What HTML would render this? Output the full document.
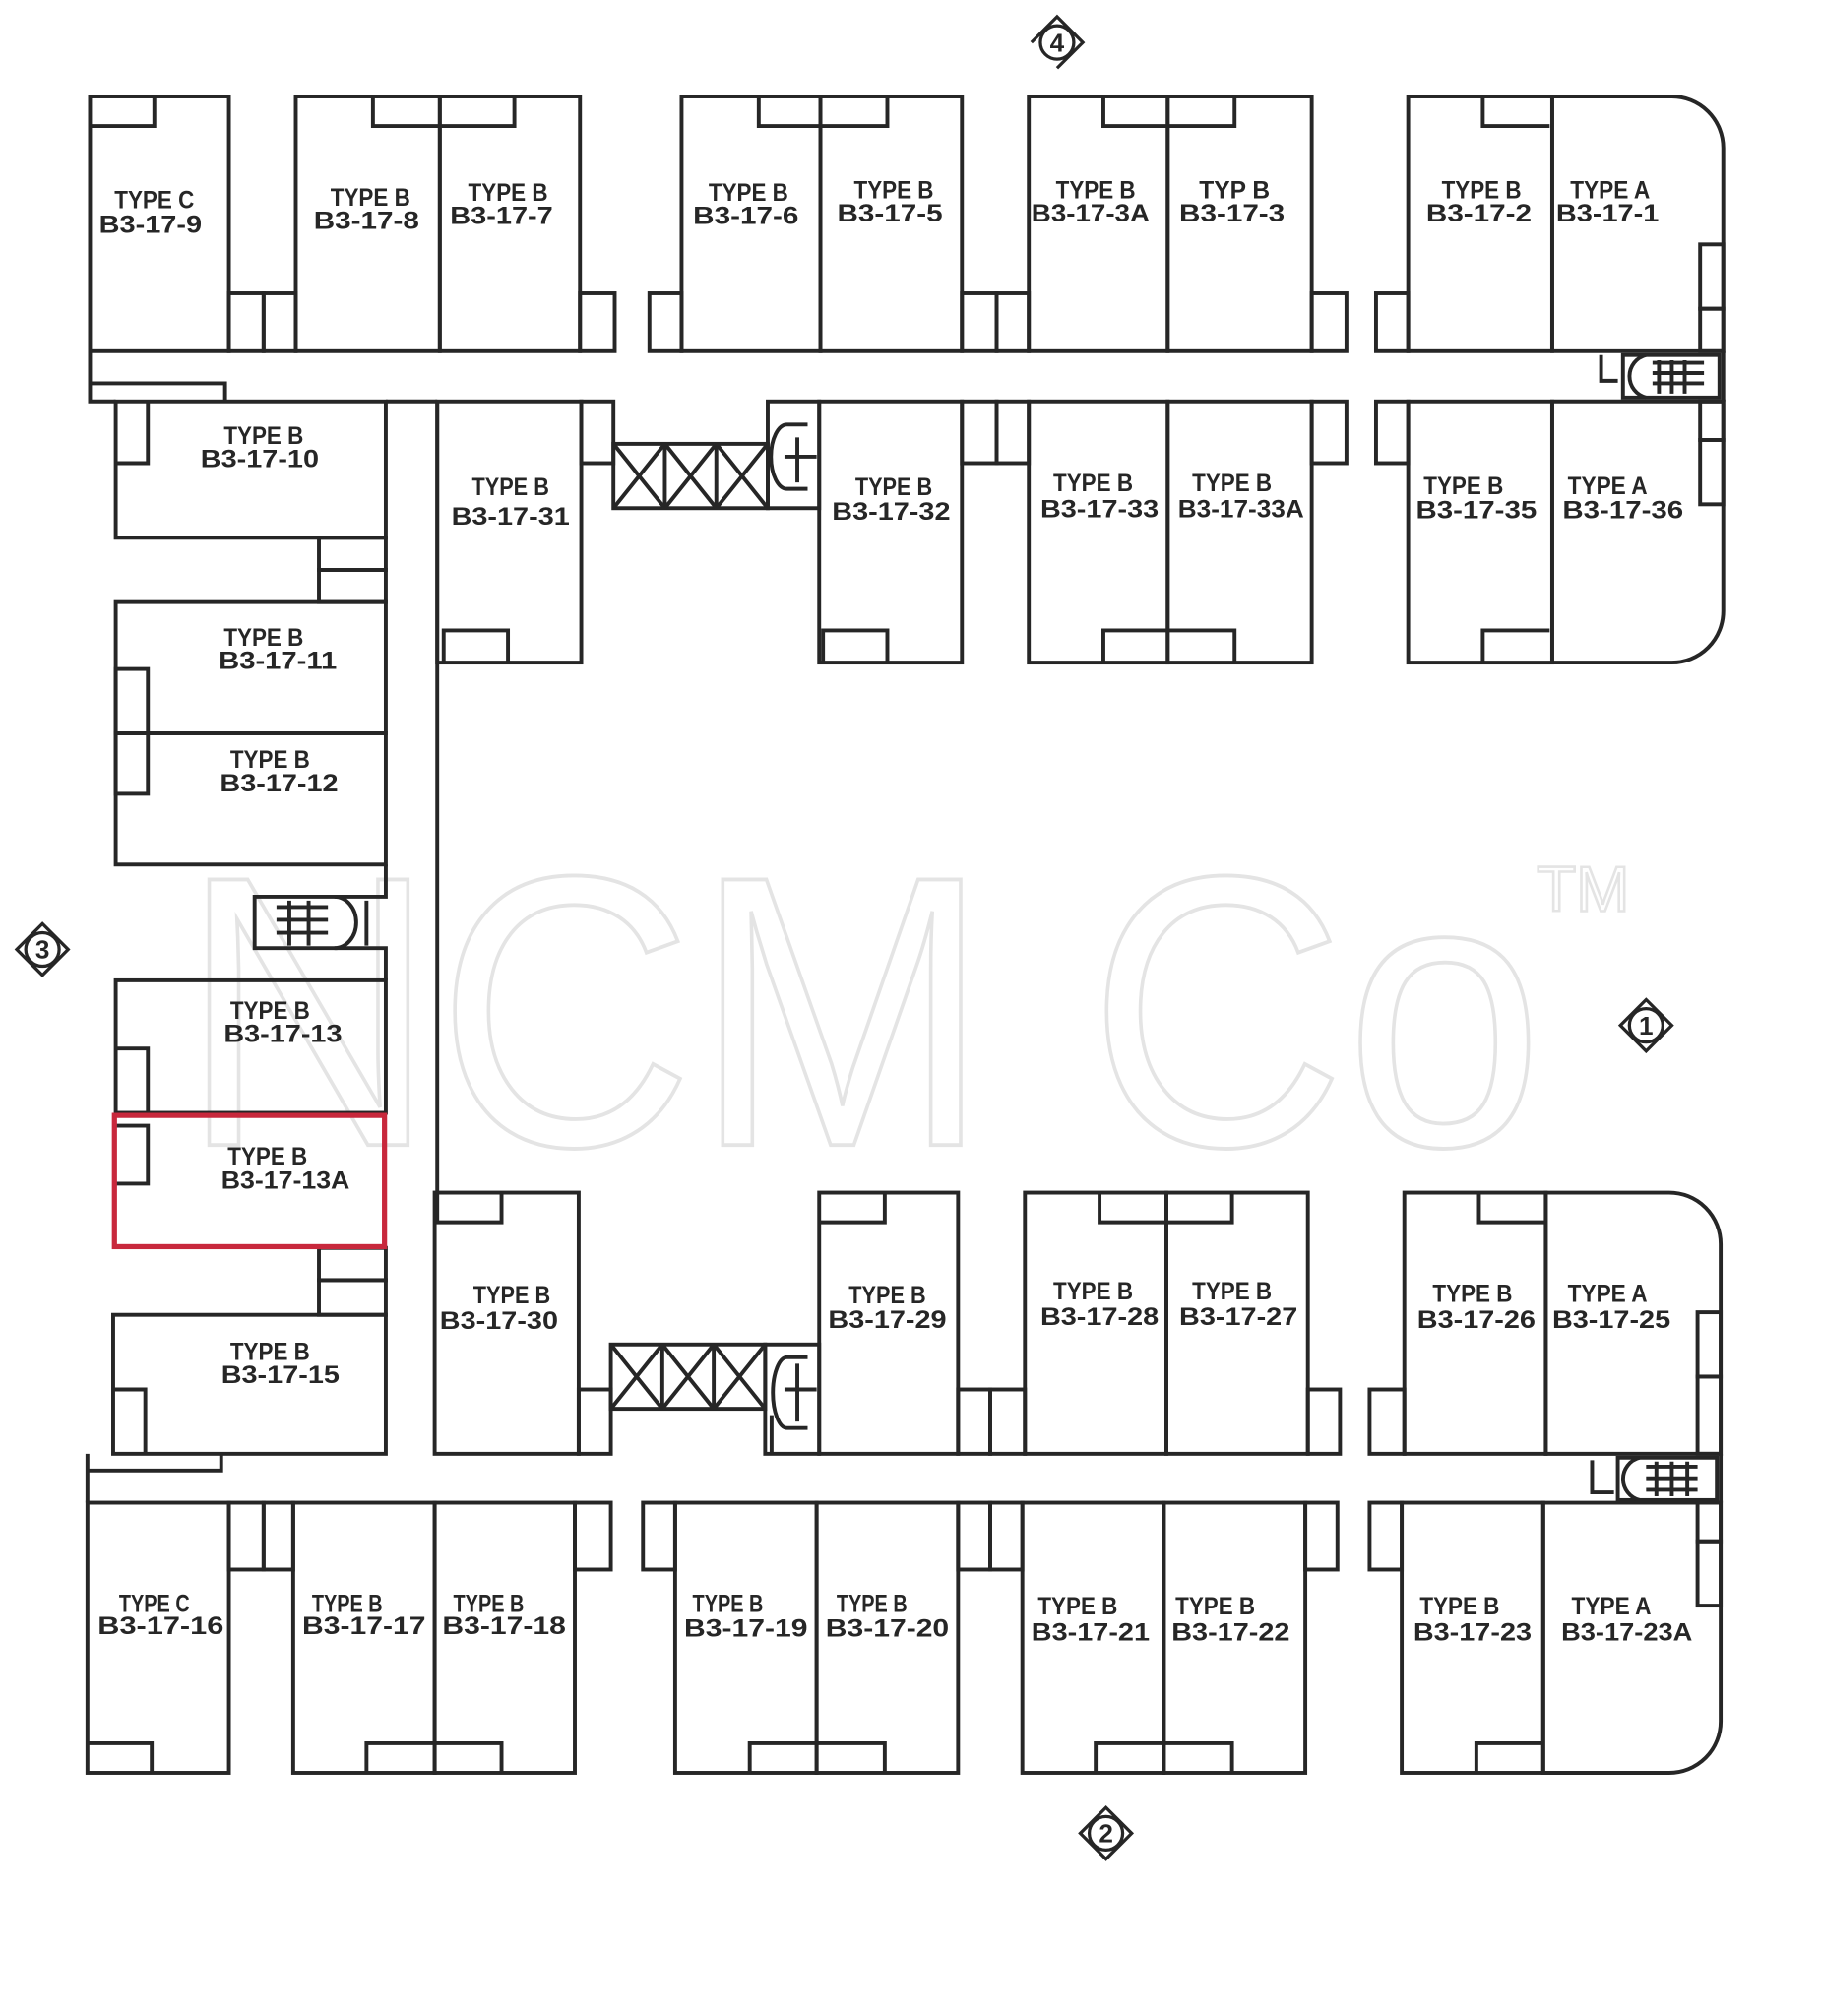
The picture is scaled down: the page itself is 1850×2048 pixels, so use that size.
<!DOCTYPE html>
<html><head><meta charset="utf-8"><style>
html,body{margin:0;padding:0;background:#fff}
svg{display:block}
.w{fill:none;stroke:#262626;stroke-width:3}
.t{font-family:"Liberation Sans",sans-serif;font-size:19px;fill:#262626;text-anchor:middle;font-weight:bold}
.m{font-family:"Liberation Sans",sans-serif;font-size:22px;fill:#262626;text-anchor:middle;font-weight:bold}
</style></head><body>
<svg width="1850" height="2048" viewBox="0 0 1416 1567" preserveAspectRatio="none" xmlns="http://www.w3.org/2000/svg">
<rect width="1416" height="1567" fill="#fff"/>
<!-- watermark -->
<text x="140" y="890" font-family="Liberation Sans,sans-serif" font-size="300" fill="none" stroke="#e4e4e4" stroke-width="3" textLength="1060" lengthAdjust="spacingAndGlyphs">NCM Co</text>
<text x="1195" y="708" font-family="Liberation Sans,sans-serif" font-size="50" fill="none" stroke="#e4e4e4" stroke-width="2">TM</text>
<g class="w">
<!-- TOP ROW -->
<rect x="70" y="75" width="108" height="198"/><path d="M70 98H120V75"/>
<rect x="178" y="228" width="27" height="45"/><rect x="205" y="228" width="25" height="45"/>
<rect x="230" y="75" width="112" height="198"/><rect x="342" y="75" width="109" height="198"/><path d="M290 75V98H400V75"/>
<rect x="451" y="228" width="27" height="45"/><rect x="505" y="228" width="25" height="45"/>
<rect x="530" y="75" width="108" height="198"/><rect x="638" y="75" width="110" height="198"/><path d="M590 75V98H690V75"/>
<rect x="748" y="228" width="27" height="45"/><rect x="775" y="228" width="25" height="45"/>
<rect x="800" y="75" width="108" height="198"/><rect x="908" y="75" width="112" height="198"/><path d="M858 75V98H960V75"/>
<rect x="1020" y="228" width="27" height="45"/><rect x="1070" y="228" width="25" height="45"/>
<rect x="1095" y="75" width="112" height="198"/><path d="M1207 75H1300A40 40 0 0 1 1340 115V273H1207Z"/><path d="M1153 75V98H1205"/>
<rect x="1322" y="190" width="18" height="50"/><rect x="1322" y="240" width="18" height="33"/>
<!-- top corridor -->
<path d="M70 273V312H90M300 312H340"/><path d="M70 298H175V312"/>
<path d="M1340 273V312"/>
<rect x="1262" y="276" width="75" height="33"/><path d="M1280 276A17 17 0 0 0 1280 309"/>
<path d="M1285 282H1325M1285 290H1325M1285 298H1325M1290 280V306M1300 280V306M1310 280V306"/>
<path d="M1245 276V296H1258"/>
<!-- SECOND ROW TOP -->
<rect x="90" y="312" width="210" height="106"/><path d="M90 360H115V312"/>
<rect x="340" y="312" width="112" height="203"/><path d="M345 515V490H395V515"/>
<rect x="452" y="312" width="25" height="48"/>
<rect x="477" y="345" width="120" height="50"/>
<path d="M517 345V395M557 345V395M477 345L517 395M517 345L477 395M517 345L557 395M557 345L517 395M557 345L597 395M597 345L557 395"/>
<rect x="597" y="312" width="40" height="83"/><path d="M628 330H612A10 20 0 0 0 612 380H628M620 340V375M610 355H635"/>
<rect x="637" y="312" width="111" height="203"/><path d="M640 515V490H690V515"/>
<rect x="748" y="312" width="27" height="48"/><rect x="775" y="312" width="25" height="48"/>
<rect x="800" y="312" width="108" height="203"/><rect x="908" y="312" width="112" height="203"/><path d="M858 515V490H960V515"/>
<rect x="1020" y="312" width="27" height="48"/><rect x="1070" y="312" width="25" height="48"/>
<rect x="1095" y="312" width="112" height="203"/><path d="M1207 312H1340V475A40 40 0 0 1 1300 515H1207Z"/><path d="M1153 515V490H1205"/>
<rect x="1322" y="312" width="18" height="30"/><rect x="1322" y="342" width="18" height="50"/>
<!-- LEFT COLUMN -->
<path d="M340 312V927M340 1130V1130"/>
<rect x="248" y="418" width="52" height="25"/><rect x="248" y="443" width="52" height="25"/>
<rect x="90" y="468" width="210" height="102"/><rect x="90" y="570" width="210" height="102"/>
<rect x="90" y="520" width="25" height="50"/><rect x="90" y="570" width="25" height="47"/>
<path d="M300 672V697H198V737H300V762"/><path d="M260 697A17 20 0 0 1 260 737"/><path d="M215 705H255M215 715H255M215 725H255M225 700V735M240 700V735M285 700V735"/>
<rect x="90" y="762" width="210" height="103"/><path d="M90 815H115V865"/>
<path d="M90 875H115V920H90"/>
<rect x="248" y="970" width="52" height="25"/><rect x="248" y="995" width="52" height="27"/>
<rect x="88" y="1022" width="212" height="108"/><path d="M88 1080H113V1130"/>
<!-- SECOND ROW BOTTOM -->
<rect x="338" y="927" width="112" height="203"/><path d="M340 927V950H390V927"/>
<rect x="450" y="1080" width="25" height="50"/>
<rect x="475" y="1045" width="120" height="50"/>
<path d="M515 1045V1095M555 1045V1095M475 1045L515 1095M515 1045L475 1095M515 1045L555 1095M555 1045L515 1095M555 1045L595 1095M595 1045L555 1095"/>
<rect x="595" y="1045" width="42" height="85"/><path d="M628 1055H612A10 25 0 0 0 612 1110H628M620 1060V1105M610 1080H635M600 1100V1130"/>
<rect x="637" y="927" width="108" height="203"/><path d="M637 950H688V927"/>
<rect x="745" y="1080" width="25" height="50"/><rect x="770" y="1080" width="27" height="50"/>
<rect x="797" y="927" width="110" height="203"/><rect x="907" y="927" width="110" height="203"/><path d="M855 927V950H958V927"/>
<rect x="1017" y="1080" width="25" height="50"/><rect x="1065" y="1080" width="27" height="50"/>
<rect x="1092" y="927" width="110" height="203"/><path d="M1202 927H1298A40 40 0 0 1 1338 967V1130H1202Z"/><path d="M1150 927V950H1202"/>
<rect x="1320" y="1020" width="18" height="50"/><rect x="1320" y="1070" width="18" height="60"/>
<!-- bottom corridor -->
<path d="M68 1130V1168M1338 1130V1168"/><path d="M68 1143H172V1130"/>
<rect x="1258" y="1133" width="77" height="33"/><path d="M1275 1133A17 17 0 0 0 1275 1166"/>
<path d="M1280 1140H1320M1280 1149H1320M1280 1158H1320M1288 1136V1163M1300 1136V1163M1312 1136V1163"/>
<path d="M1238 1135V1160H1255"/>
<!-- BOTTOM ROW -->
<rect x="68" y="1168" width="110" height="210"/><path d="M68 1355H118V1378"/>
<rect x="178" y="1168" width="27" height="52"/><rect x="205" y="1168" width="23" height="52"/>
<rect x="228" y="1168" width="110" height="210"/><rect x="338" y="1168" width="109" height="210"/><path d="M285 1378V1355H390V1378"/>
<rect x="447" y="1168" width="28" height="52"/><rect x="500" y="1168" width="25" height="52"/>
<rect x="525" y="1168" width="110" height="210"/><rect x="635" y="1168" width="110" height="210"/><path d="M583 1378V1355H688V1378"/>
<rect x="745" y="1168" width="25" height="52"/><rect x="770" y="1168" width="25" height="52"/>
<rect x="795" y="1168" width="110" height="210"/><rect x="905" y="1168" width="110" height="210"/><path d="M852 1378V1355H958V1378"/>
<rect x="1015" y="1168" width="25" height="52"/><rect x="1065" y="1168" width="25" height="52"/>
<rect x="1090" y="1168" width="110" height="210"/><path d="M1200 1168H1338V1338A40 40 0 0 1 1298 1378H1200Z"/><path d="M1148 1378V1355H1200"/>
<rect x="1320" y="1168" width="18" height="30"/><rect x="1320" y="1198" width="18" height="50"/>
</g>
<!-- red highlight -->
<rect x="89" y="867" width="210" height="102" fill="none" stroke="#c8283c" stroke-width="4"/>
<!-- labels -->
<g class="t">
<text x="120" y="162" textLength="62" lengthAdjust="spacingAndGlyphs">TYPE C</text><text x="117" y="181" textLength="80" lengthAdjust="spacingAndGlyphs">B3-17-9</text>
<text x="288" y="160" textLength="62" lengthAdjust="spacingAndGlyphs">TYPE B</text><text x="285" y="178" textLength="82" lengthAdjust="spacingAndGlyphs">B3-17-8</text>
<text x="395" y="156" textLength="62" lengthAdjust="spacingAndGlyphs">TYPE B</text><text x="390" y="174" textLength="80" lengthAdjust="spacingAndGlyphs">B3-17-7</text>
<text x="582" y="156" textLength="62" lengthAdjust="spacingAndGlyphs">TYPE B</text><text x="580" y="174" textLength="82" lengthAdjust="spacingAndGlyphs">B3-17-6</text>
<text x="695" y="154" textLength="62" lengthAdjust="spacingAndGlyphs">TYPE B</text><text x="692" y="172" textLength="82" lengthAdjust="spacingAndGlyphs">B3-17-5</text>
<text x="852" y="154" textLength="62" lengthAdjust="spacingAndGlyphs">TYPE B</text><text x="848" y="172" textLength="92" lengthAdjust="spacingAndGlyphs">B3-17-3A</text>
<text x="960" y="154" textLength="55" lengthAdjust="spacingAndGlyphs">TYP B</text><text x="958" y="172" textLength="82" lengthAdjust="spacingAndGlyphs">B3-17-3</text>
<text x="1152" y="154" textLength="62" lengthAdjust="spacingAndGlyphs">TYPE B</text><text x="1150" y="172" textLength="82" lengthAdjust="spacingAndGlyphs">B3-17-2</text>
<text x="1252" y="154" textLength="62" lengthAdjust="spacingAndGlyphs">TYPE A</text><text x="1250" y="172" textLength="80" lengthAdjust="spacingAndGlyphs">B3-17-1</text>
<text x="205" y="345" textLength="62" lengthAdjust="spacingAndGlyphs">TYPE B</text><text x="202" y="363" textLength="92" lengthAdjust="spacingAndGlyphs">B3-17-10</text>
<text x="397" y="385" textLength="60" lengthAdjust="spacingAndGlyphs">TYPE B</text><text x="397" y="408" textLength="92" lengthAdjust="spacingAndGlyphs">B3-17-31</text>
<text x="695" y="385" textLength="60" lengthAdjust="spacingAndGlyphs">TYPE B</text><text x="693" y="404" textLength="92" lengthAdjust="spacingAndGlyphs">B3-17-32</text>
<text x="850" y="382" textLength="62" lengthAdjust="spacingAndGlyphs">TYPE B</text><text x="855" y="402" textLength="92" lengthAdjust="spacingAndGlyphs">B3-17-33</text>
<text x="958" y="382" textLength="62" lengthAdjust="spacingAndGlyphs">TYPE B</text><text x="965" y="402" textLength="98" lengthAdjust="spacingAndGlyphs">B3-17-33A</text>
<text x="1138" y="384" textLength="62" lengthAdjust="spacingAndGlyphs">TYPE B</text><text x="1148" y="403" textLength="94" lengthAdjust="spacingAndGlyphs">B3-17-35</text>
<text x="1250" y="384" textLength="62" lengthAdjust="spacingAndGlyphs">TYPE A</text><text x="1262" y="403" textLength="94" lengthAdjust="spacingAndGlyphs">B3-17-36</text>
<text x="205" y="502" textLength="62" lengthAdjust="spacingAndGlyphs">TYPE B</text><text x="216" y="520" textLength="92" lengthAdjust="spacingAndGlyphs">B3-17-11</text>
<text x="210" y="597" textLength="62" lengthAdjust="spacingAndGlyphs">TYPE B</text><text x="217" y="615" textLength="92" lengthAdjust="spacingAndGlyphs">B3-17-12</text>
<text x="210" y="792" textLength="62" lengthAdjust="spacingAndGlyphs">TYPE B</text><text x="220" y="810" textLength="92" lengthAdjust="spacingAndGlyphs">B3-17-13</text>
<text x="208" y="905" textLength="62" lengthAdjust="spacingAndGlyphs">TYPE B</text><text x="222" y="924" textLength="100" lengthAdjust="spacingAndGlyphs">B3-17-13A</text>
<text x="210" y="1057" textLength="62" lengthAdjust="spacingAndGlyphs">TYPE B</text><text x="218" y="1075" textLength="92" lengthAdjust="spacingAndGlyphs">B3-17-15</text>
<text x="398" y="1013" textLength="60" lengthAdjust="spacingAndGlyphs">TYPE B</text><text x="388" y="1033" textLength="92" lengthAdjust="spacingAndGlyphs">B3-17-30</text>
<text x="690" y="1013" textLength="60" lengthAdjust="spacingAndGlyphs">TYPE B</text><text x="690" y="1032" textLength="92" lengthAdjust="spacingAndGlyphs">B3-17-29</text>
<text x="850" y="1010" textLength="62" lengthAdjust="spacingAndGlyphs">TYPE B</text><text x="855" y="1030" textLength="92" lengthAdjust="spacingAndGlyphs">B3-17-28</text>
<text x="958" y="1010" textLength="62" lengthAdjust="spacingAndGlyphs">TYPE B</text><text x="963" y="1030" textLength="92" lengthAdjust="spacingAndGlyphs">B3-17-27</text>
<text x="1145" y="1012" textLength="62" lengthAdjust="spacingAndGlyphs">TYPE B</text><text x="1148" y="1032" textLength="92" lengthAdjust="spacingAndGlyphs">B3-17-26</text>
<text x="1250" y="1012" textLength="62" lengthAdjust="spacingAndGlyphs">TYPE A</text><text x="1253" y="1032" textLength="92" lengthAdjust="spacingAndGlyphs">B3-17-25</text>
<text x="120" y="1253" textLength="55" lengthAdjust="spacingAndGlyphs">TYPE C</text><text x="125" y="1270" textLength="98" lengthAdjust="spacingAndGlyphs">B3-17-16</text>
<text x="270" y="1253" textLength="55" lengthAdjust="spacingAndGlyphs">TYPE B</text><text x="283" y="1270" textLength="96" lengthAdjust="spacingAndGlyphs">B3-17-17</text>
<text x="380" y="1253" textLength="55" lengthAdjust="spacingAndGlyphs">TYPE B</text><text x="392" y="1270" textLength="96" lengthAdjust="spacingAndGlyphs">B3-17-18</text>
<text x="566" y="1253" textLength="55" lengthAdjust="spacingAndGlyphs">TYPE B</text><text x="580" y="1272" textLength="96" lengthAdjust="spacingAndGlyphs">B3-17-19</text>
<text x="678" y="1253" textLength="55" lengthAdjust="spacingAndGlyphs">TYPE B</text><text x="690" y="1272" textLength="96" lengthAdjust="spacingAndGlyphs">B3-17-20</text>
<text x="838" y="1255" textLength="62" lengthAdjust="spacingAndGlyphs">TYPE B</text><text x="848" y="1275" textLength="92" lengthAdjust="spacingAndGlyphs">B3-17-21</text>
<text x="945" y="1255" textLength="62" lengthAdjust="spacingAndGlyphs">TYPE B</text><text x="957" y="1275" textLength="92" lengthAdjust="spacingAndGlyphs">B3-17-22</text>
<text x="1135" y="1255" textLength="62" lengthAdjust="spacingAndGlyphs">TYPE B</text><text x="1145" y="1275" textLength="92" lengthAdjust="spacingAndGlyphs">B3-17-23</text>
<text x="1253" y="1255" textLength="62" lengthAdjust="spacingAndGlyphs">TYPE A</text><text x="1265" y="1275" textLength="102" lengthAdjust="spacingAndGlyphs">B3-17-23A</text>
</g>
<!-- direction markers -->
<g fill="none" stroke="#262626" stroke-width="2.5">
<circle cx="822" cy="33" r="13"/><path d="M802 33L822 13L842 33L822 53"/>
<circle cx="33" cy="738" r="13"/><path d="M33 718L53 738L33 758L13 738Z"/>
<circle cx="1280" cy="797" r="13"/><path d="M1280 777L1300 797L1280 817L1260 797Z"/>
<circle cx="860" cy="1425" r="13"/><path d="M860 1405L880 1425L860 1445L840 1425Z"/>
</g>
<g class="m" style="font-size:20px">
<text x="822" y="40">4</text><text x="33" y="745">3</text><text x="1280" y="804">1</text><text x="860" y="1432">2</text>
</g>
</svg>
</body></html>
